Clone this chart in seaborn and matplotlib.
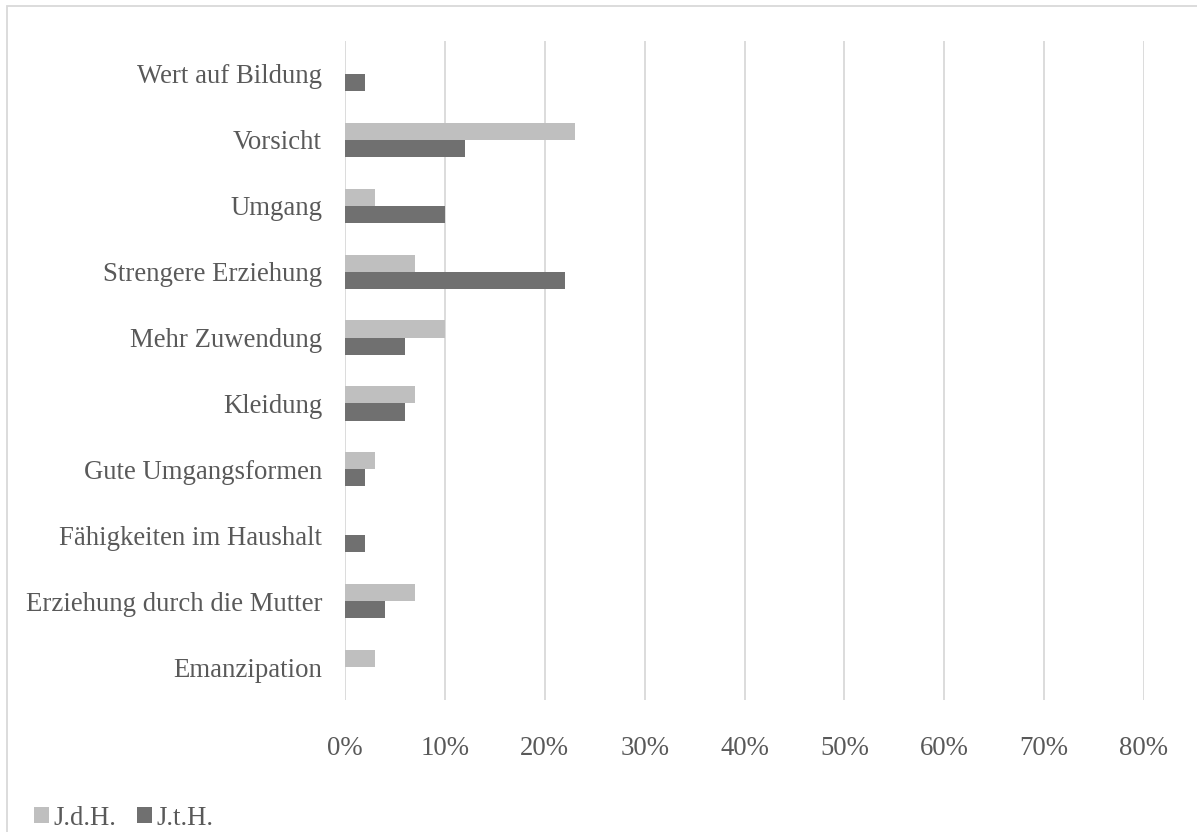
import matplotlib
matplotlib.use("Agg")
import matplotlib.pyplot as plt
from matplotlib.patches import Rectangle
from matplotlib.ticker import PercentFormatter
import seaborn as sns
import pandas as pd

categories = [
    "Wert auf Bildung",
    "Vorsicht",
    "Umgang",
    "Strengere Erziehung",
    "Mehr Zuwendung",
    "Kleidung",
    "Gute Umgangsformen",
    "Fähigkeiten im Haushalt",
    "Erziehung durch die Mutter",
    "Emanzipation",
]
series_names = ["J.d.H.", "J.t.H."]
jdh = [0.00, 0.23, 0.03, 0.07, 0.10, 0.07, 0.03, 0.00, 0.07, 0.03]
jth = [0.02, 0.12, 0.10, 0.22, 0.06, 0.06, 0.02, 0.02, 0.04, 0.00]
x_ticks = [0.0, 0.1, 0.2, 0.3, 0.4, 0.5, 0.6, 0.7, 0.8]

colors = ["#BFBFBF", "#707070"]
text_color = "#595959"

df = pd.DataFrame({
    "Kategorie": categories * 2,
    "Gruppe": [series_names[0]] * len(categories) + [series_names[1]] * len(categories),
    "Anteil": jdh + jth,
})

sns.set_theme(style="white")
plt.rcParams["font.family"] = ["Liberation Serif", "DejaVu Serif"]

fig = plt.figure(figsize=(11.97, 8.32), dpi=100)
ax = fig.add_axes([345 / 1197, 1 - 700 / 832, (1144 - 345) / 1197, (700 - 41) / 832])

sns.barplot(
    data=df, y="Kategorie", x="Anteil", hue="Gruppe",
    order=categories, hue_order=series_names, palette=colors,
    orient="h", width=0.52, gap=0, linewidth=0, saturation=1,
    errorbar=None, legend=False, ax=ax,
)

ax.set_xlim(0, 0.8)
ax.set_xticks(x_ticks)
ax.xaxis.set_major_formatter(PercentFormatter(1.0, decimals=0))
ax.grid(axis="x", color="#D9D9D9", linewidth=1.3)
ax.grid(axis="y", visible=False)
ax.set_axisbelow(True)
for s in ax.spines.values():
    s.set_visible(False)
ax.set_xlabel("")
ax.set_ylabel("")
ax.tick_params(axis="both", length=0, labelsize=19.3, labelcolor=text_color)
ax.tick_params(axis="y", pad=16.5)
ax.tick_params(axis="x", pad=26)

# Legend at bottom left
handles = [Rectangle((0, 0), 1, 1, facecolor=c, edgecolor="none") for c in colors]
fig.legend(
    handles, series_names, loc="lower left", bbox_to_anchor=(29 / 1197, -4 / 832),
    ncol=2, frameon=False, fontsize=19.3, labelcolor=text_color,
    handlelength=0.55, handleheight=0.55, handletextpad=0.15, columnspacing=0.8,
    borderaxespad=0.0, borderpad=0.2,
)

# Chart area border
fig.patches.append(Rectangle((7 / 1197, -0.1), 1.2, 1 - 6 / 832 + 0.1,
                             transform=fig.transFigure, fill=False,
                             edgecolor="#D9D9D9", linewidth=1.3))

fig.savefig("out.png", dpi=100)
